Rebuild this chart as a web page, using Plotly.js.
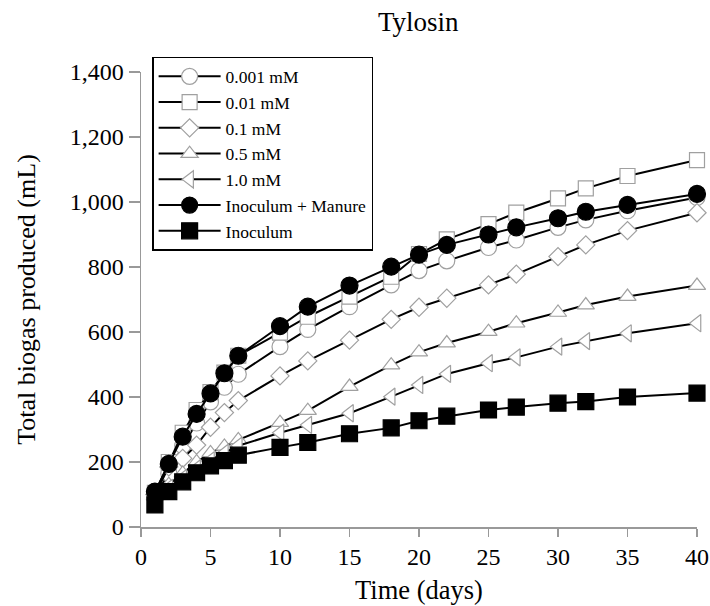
<!DOCTYPE html>
<html><head><meta charset="utf-8">
<script src="https://cdn.plot.ly/plotly-3.0.1.min.js"></script>
<style>body{margin:0;background:#fff}#chart{width:710px;height:606px}</style>
</head><body><div id="chart"></div>
<script>
const days = [1,2,3,4,5,6,7,10,12,15,18,20,22,25,27,30,32,35,40];
const seriesNames = ["0.001 mM","0.01 mM","0.1 mM","0.5 mM","1.0 mM","Inoculum + Manure","Inoculum"];
const mM0001 = [95,165,250,320,385,430,470,555,608,678,745,789,819,860,883,922,945,973,1014];
const mM001  = [105,200,290,360,415,475,527,598,647,709,770,840,885,932,967,1011,1042,1080,1129];
const mM01   = [100,185,211,252,307,352,389,465,511,575,639,676,704,745,778,832,868,912,967];
const mM05   = [95,130,165,200,228,248,268,321,358,432,498,538,566,601,627,660,683,709,743];
const mM10   = [90,120,150,180,205,228,250,290,314,350,401,437,471,504,522,555,572,596,627];
const inocManure = [109,194,278,348,411,473,527,618,678,743,801,838,868,900,922,950,970,991,1025];
const inoculum   = [68,109,139,167,188,204,221,245,260,287,305,327,341,360,369,381,386,400,412];

const values = [mM0001, mM001, mM01, mM05, mM10, inocManure, inoculum];
const symbols = ["circle","square","diamond","triangle-up","triangle-left","circle","square"];
const sizes = [16,15,14,15,15,17,16];
const fills = ["#ffffff","#ffffff","#ffffff","#ffffff","#ffffff","#000000","#000000"];
const outlines = ["#a0a0a0","#a0a0a0","#a0a0a0","#a0a0a0","#a0a0a0","#000000","#000000"];

const traces = values.map((v,i)=>({
  x: days, y: v, name: seriesNames[i], type: "scatter", mode: "lines+markers",
  cliponaxis: false,
  line: {color: "#000", width: 2},
  marker: {symbol: symbols[i], size: sizes[i], color: fills[i], line: {color: outlines[i], width: 1.2}}
}));

const serif = "Liberation Serif, Times New Roman, serif";
const layout = {
  width: 710, height: 606,
  margin: {l: 141, r: 13, t: 72, b: 79},
  paper_bgcolor: "#fff", plot_bgcolor: "#fff",
  font: {family: serif, color: "#000"},
  title: {text: "Tylosin", font: {family: serif, size: 27, color: "#000"}, x: 0.589, xanchor: "center", y: 0.965, yanchor: "middle"},
  showlegend: true,
  legend: {x: 0.02, y: 1.033, xanchor: "left", yanchor: "top", bordercolor: "#000", borderwidth: 1.5,
    bgcolor: "#fff", font: {family: serif, size: 17.5, color: "#000"}, tracegroupgap: 0, itemwidth: 62},
  xaxis: {range: [0, 40], tickvals: [0,5,10,15,20,25,30,35,40], showgrid: false, zeroline: false,
    showline: true, linecolor: "#999", linewidth: 1.5, ticks: "outside", ticklen: 8, tickcolor: "#999", tickwidth: 1.5,
    tickfont: {family: serif, size: 24, color: "#000"},
    title: {text: "Time (days)", font: {family: serif, size: 26.5, color: "#000"}, standoff: 11}},
  yaxis: {range: [0, 1400], tickvals: [0,200,400,600,800,1000,1200,1400], tickformat: ",d", showgrid: false, zeroline: false,
    showline: true, linecolor: "#999", linewidth: 1.5, ticks: "outside", ticklen: 11, tickcolor: "#999", tickwidth: 1.5,
    tickfont: {family: serif, size: 24, color: "#000"},
    title: {text: "Total biogas produced (mL)", font: {family: serif, size: 26, color: "#000"}, standoff: 26}}
};
Plotly.newPlot("chart", traces, layout, {displayModeBar: false, staticPlot: true});
</script></body></html>
